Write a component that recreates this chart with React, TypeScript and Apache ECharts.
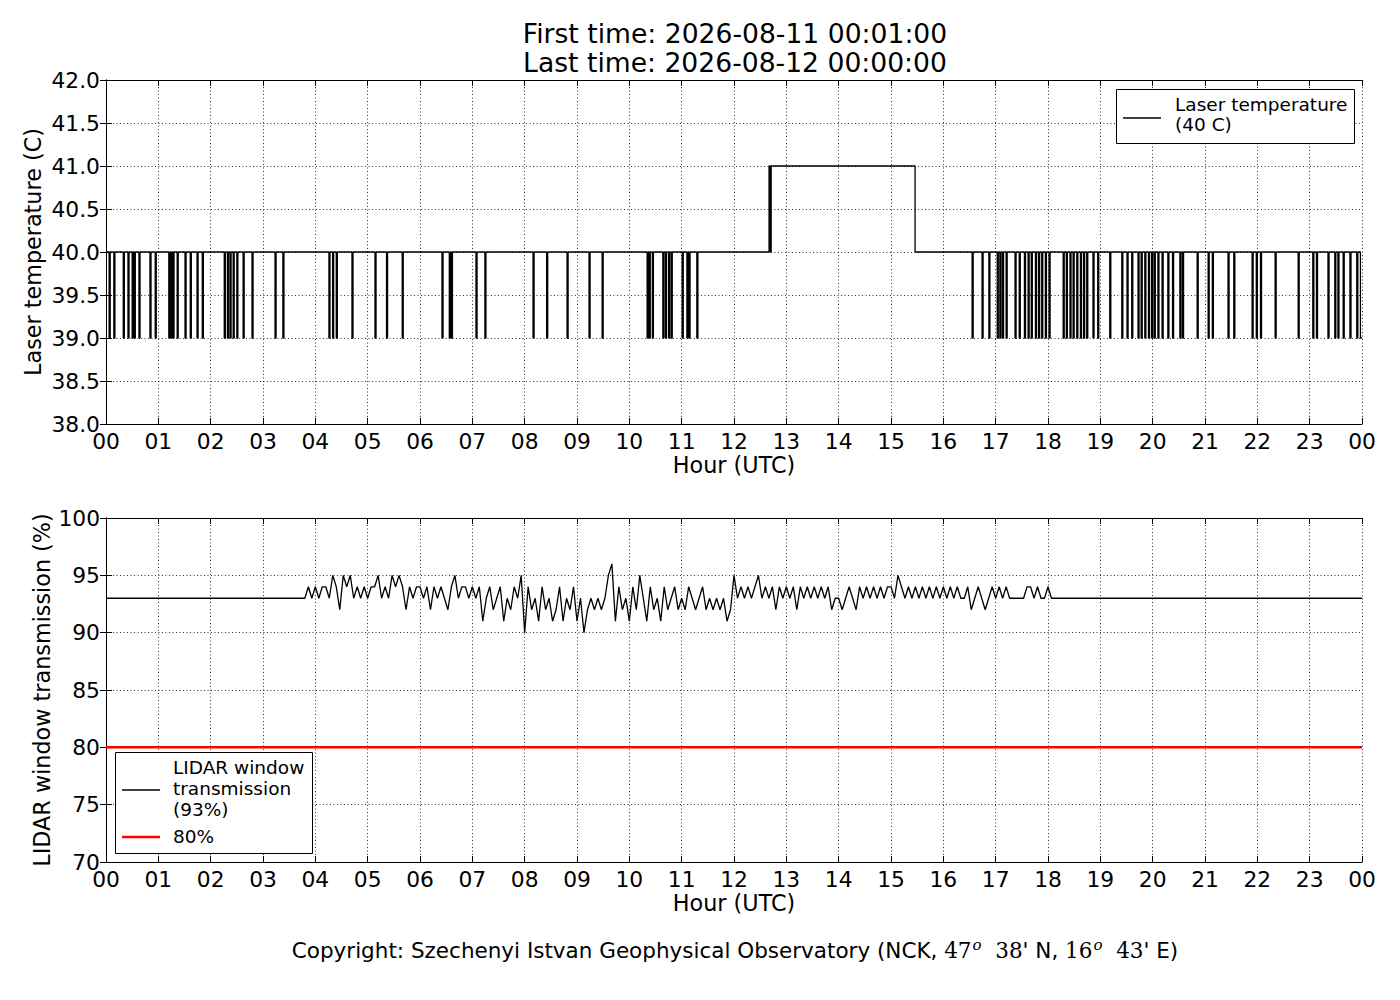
import React, { useEffect, useRef } from "react";
import * as echarts from "echarts";

// ---------- Data ----------
const titleLines = ["First time: 2026-08-11 00:01:00", "Last time: 2026-08-12 00:00:00"];

// Laser temperature: baseline 40 C, short dips to 39 C (start hour of each dip)
const tempBase = 40;
const tempLow = 39;
const tempHigh = 41;
const dipStarts = [
  0.06, 0.15, 0.33, 0.42, 0.5, 0.54, 0.63, 0.84, 0.94, 1.2, 1.24, 1.28, 1.36, 1.51, 1.61, 1.74, 1.84,
  2.26, 2.32, 2.37, 2.43, 2.5, 2.62, 2.79, 3.23, 3.38, 4.26, 4.33, 4.4, 4.7, 5.14, 5.36, 5.66,
  6.42, 6.56, 6.6, 7.07, 7.24, 8.16, 8.42, 8.81, 9.23, 9.48, 10.34, 10.38, 10.44, 10.64, 10.69,
  10.75, 10.8, 11.01, 11.1, 11.14, 11.29, 16.55, 16.74, 16.87, 17.03, 17.08, 17.13, 17.2, 17.37,
  17.45, 17.55, 17.62, 17.68, 17.76, 17.82, 17.88, 17.95, 18.02, 18.29, 18.35, 18.42, 18.48,
  18.55, 18.62, 18.68, 18.74, 18.86, 18.95, 19.18, 19.41, 19.51, 19.6, 19.72, 19.78, 19.85,
  19.92, 19.98, 20.03, 20.1, 20.18, 20.29, 20.38, 20.52, 20.57, 20.85, 21.06, 21.14, 21.44,
  21.55, 21.9, 21.98, 22.06, 22.34, 22.78, 23.06, 23.13, 23.35, 23.48, 23.54, 23.64, 23.77, 23.9,
];
const dipWidth = 0.02; // hours (about one sample)
const highSegments = [
  [12.67, 12.69],
  [12.71, 15.46],
];
const tailLowStart = 23.97; // stays at 39 until the end

// LIDAR window transmission (%), 4-minute samples
const transFlat = 93;
const transStart = 3.8;
const transStep = 1 / 15;
const transLead = [93, 94, 93];
const trans04 = [94, 93, 94, 94, 93, 95, 94, 92, 95, 94, 95, 93, 94, 93, 94];
const trans05 = [93, 94, 94, 95, 93, 94, 93, 95, 94, 95, 94, 92, 94, 93, 94];
const trans06 = [94, 93, 94, 92, 94, 93, 94, 93, 92, 94, 95, 93, 94, 94, 93];
const trans07 = [94, 93, 94, 91, 93, 94, 92, 93, 94, 91, 93, 92, 94, 93, 95];
const trans08 = [90, 94, 92, 93, 91, 94, 92, 93, 91, 92, 94, 91, 93, 92, 94];
const trans09 = [91, 93, 90, 92, 93, 92, 93, 92, 93, 95, 96, 91, 94, 92, 93];
const trans10 = [91, 94, 92, 95, 93, 91, 94, 92, 93, 91, 94, 92, 93, 94, 92];
const trans11 = [93, 92, 94, 93, 92, 93, 94, 92, 93, 92, 93, 92, 93, 91, 92];
const trans12 = [95, 93, 94, 93, 94, 93, 94, 95, 93, 94, 93, 94, 92, 94, 93];
const trans13 = [94, 93, 94, 92, 94, 93, 94, 93, 94, 93, 94, 93, 94, 92, 93];
const trans14 = [93, 92, 93, 94, 93, 92, 94, 93, 94, 93, 94, 93, 94, 93, 94];
const trans15 = [94, 93, 95, 94, 93, 94, 93, 94, 93, 94, 93, 94, 93, 94, 93];
const trans16 = [94, 93, 94, 93, 94, 93, 93, 94, 92, 93, 94, 93, 92, 93, 94];
const trans17 = [93, 94, 93, 94, 93, 93, 93, 93, 93, 94, 94, 93, 94, 93, 93];
const transTrail = [94, 93];

const thresholdHours = [0, 24];
const thresholdValue = 80;

// ---------- Build series ----------
function buildTemp(): number[][] {
  const events: { s: number; e: number; v: number }[] = [];
  dipStarts.forEach((t) => events.push({ s: t, e: t + dipWidth, v: tempLow }));
  highSegments.forEach(([s, e]) => events.push({ s, e, v: tempHigh }));
  events.sort((a, b) => a.s - b.s);
  const pts: number[][] = [[0, tempBase]];
  events.forEach((ev) => {
    pts.push([ev.s, tempBase], [ev.s, ev.v], [ev.e, ev.v], [ev.e, tempBase]);
  });
  pts.push([tailLowStart, tempBase], [tailLowStart, tempLow], [24, tempLow]);
  return pts;
}

function buildTrans(): number[][] {
  const vals = [
    ...transLead, ...trans04, ...trans05, ...trans06, ...trans07, ...trans08, ...trans09,
    ...trans10, ...trans11, ...trans12, ...trans13, ...trans14, ...trans15, ...trans16,
    ...trans17, ...transTrail,
  ];
  const pts: number[][] = [[0, transFlat]];
  vals.forEach((v, i) => pts.push([transStart + i * transStep, v]));
  pts.push([24, transFlat]);
  return pts;
}

const FONT = "DejaVu Sans";
const SERIF = "DejaVu Serif";
const TICK_SIZE = 21.8;
const LABEL_SIZE = 22.3;

const hourFmt = (v: number) => String(Math.round(v) % 24).padStart(2, "0");

function xAxes(gridIndex: number) {
  const common = {
    type: "value",
    gridIndex,
    min: 0,
    max: 24,
    interval: 1,
    axisLine: { show: true, lineStyle: { color: "#000", width: 1 } },
    axisTick: { show: true, inside: true, length: 6, lineStyle: { color: "#000", width: 1 } },
  };
  return [
    {
      ...common,
      position: "bottom",
      name: "Hour (UTC)",
      nameLocation: "middle",
      nameGap: 30,
      nameTextStyle: { fontFamily: FONT, fontSize: LABEL_SIZE, color: "#000" },
      axisLabel: { show: true, margin: 6, formatter: hourFmt, fontFamily: FONT, fontSize: TICK_SIZE, color: "#000" },
      splitLine: { show: true, lineStyle: { color: "#000", width: 0.8, type: [1, 2.5] } },
    },
    {
      ...common,
      position: "top",
      axisLabel: { show: false },
      splitLine: { show: false },
    },
  ];
}

function yAxes(gridIndex: number, min: number, max: number, interval: number, name: string, nameGap: number, fmt: (v: number) => string) {
  const common = {
    type: "value",
    gridIndex,
    min,
    max,
    interval,
    axisLine: { show: true, lineStyle: { color: "#000", width: 1 } },
    axisTick: { show: true, inside: true, length: 6, lineStyle: { color: "#000", width: 1 } },
  };
  return [
    {
      ...common,
      position: "left",
      name,
      nameLocation: "middle",
      nameRotate: 90,
      nameGap,
      nameMoveOverlap: false,
      nameTextStyle: { fontFamily: FONT, fontSize: LABEL_SIZE, color: "#000" },
      axisLabel: { show: true, margin: 6, formatter: fmt, fontFamily: FONT, fontSize: TICK_SIZE, color: "#000" },
      splitLine: { show: true, lineStyle: { color: "#000", width: 0.8, type: [1, 2.5] } },
    },
    {
      ...common,
      position: "right",
      axisLabel: { show: false },
      splitLine: { show: false },
    },
  ];
}

export default function App() {
  const ref = useRef<HTMLDivElement>(null);
  useEffect(() => {
    if (!ref.current) return;
    const chart = echarts.init(ref.current, undefined, { renderer: "svg" });
    const option: any = {
      animation: false,
      backgroundColor: "#fff",
      grid: [
        { left: 106, top: 80, width: 1256, height: 344, containLabel: false },
        { left: 106, top: 518, width: 1256, height: 344, containLabel: false },
      ],
      xAxis: [...xAxes(0), ...xAxes(1)],
      yAxis: [
        ...yAxes(0, 38, 42, 0.5, "Laser temperature (C)", 62, (v) => v.toFixed(1)),
        ...yAxes(1, 70, 100, 5, "LIDAR window transmission (%)", 53, (v) => String(v)),
      ],
      series: [
        {
          type: "line",
          xAxisIndex: 0,
          yAxisIndex: 0,
          data: buildTemp(),
          showSymbol: false,
          symbol: "none",
          lineStyle: { color: "#000", width: 1.3 },
          silent: true,
          z: 3,
        },
        {
          type: "line",
          xAxisIndex: 2,
          yAxisIndex: 2,
          data: buildTrans(),
          showSymbol: false,
          symbol: "none",
          lineStyle: { color: "#000", width: 1.3 },
          silent: true,
          z: 3,
        },
        {
          type: "line",
          xAxisIndex: 2,
          yAxisIndex: 2,
          data: thresholdHours.map((h) => [h, thresholdValue]),
          showSymbol: false,
          symbol: "none",
          lineStyle: { color: "#ff0000", width: 2.5 },
          silent: true,
          z: 2,
        },
      ],
      graphic: [
        {
          type: "text",
          x: 735,
          y: 19,
          style: {
            text: titleLines.join("\n"),
            fontFamily: FONT,
            fontSize: 26.6,
            lineHeight: 29,
            fill: "#000",
            align: "center",
          },
        },
        // top legend
        {
          type: "rect",
          shape: { x: 1116.5, y: 89.5, width: 238, height: 54 },
          style: { fill: "#fff", stroke: "#000", lineWidth: 1 },
          z: 10,
        },
        {
          type: "line",
          shape: { x1: 1123, y1: 118, x2: 1161, y2: 118 },
          style: { stroke: "#000", lineWidth: 1.3 },
          z: 11,
        },
        {
          type: "text",
          x: 1175,
          y: 94,
          style: {
            text: "Laser temperature\n(40 C)",
            fontFamily: FONT,
            fontSize: 18.5,
            lineHeight: 20,
            fill: "#000",
          },
          z: 11,
        },
        // bottom legend
        {
          type: "rect",
          shape: { x: 115.5, y: 752.5, width: 197, height: 101 },
          style: { fill: "#fff", stroke: "#000", lineWidth: 1 },
          z: 10,
        },
        {
          type: "line",
          shape: { x1: 122, y1: 790, x2: 160, y2: 790 },
          style: { stroke: "#000", lineWidth: 1.3 },
          z: 11,
        },
        {
          type: "text",
          x: 173,
          y: 757,
          style: {
            text: "LIDAR window\ntransmission\n(93%)",
            fontFamily: FONT,
            fontSize: 18.5,
            lineHeight: 21,
            fill: "#000",
          },
          z: 11,
        },
        {
          type: "line",
          shape: { x1: 122, y1: 837, x2: 160, y2: 837 },
          style: { stroke: "#ff0000", lineWidth: 2.5 },
          z: 11,
        },
        {
          type: "text",
          x: 173,
          y: 826,
          style: { text: "80%", fontFamily: FONT, fontSize: 18.5, lineHeight: 21, fill: "#000" },
          z: 11,
        },
        // footer
        {
          type: "text",
          x: 735,
          y: 937,
          style: {
            align: "center",
            text:
              "{a|Copyright: Szechenyi Istvan Geophysical Observatory (NCK, }{m|47}{s|o}{a|  }{m|38}{a|' N, }{m|16}{s|o}{a|  }{m|43}{a|' E)}",
            rich: {
              a: { fontFamily: FONT, fontSize: 21.5, fill: "#000", lineHeight: 27 },
              m: { fontFamily: SERIF, fontSize: 21.5, fill: "#000", lineHeight: 27 },
              s: { fontFamily: SERIF, fontSize: 15, fontStyle: "italic", fill: "#000", lineHeight: 27, verticalAlign: "top", padding: [0, 0, 10, 1] },
            },
          },
        },
      ],
    };
    chart.setOption(option);
    return () => chart.dispose();
  }, []);
  return (
    <div
      ref={ref}
      style={{ position: "fixed", left: 0, top: 0, width: 1400, height: 1000, background: "#fff" }}
    />
  );
}
